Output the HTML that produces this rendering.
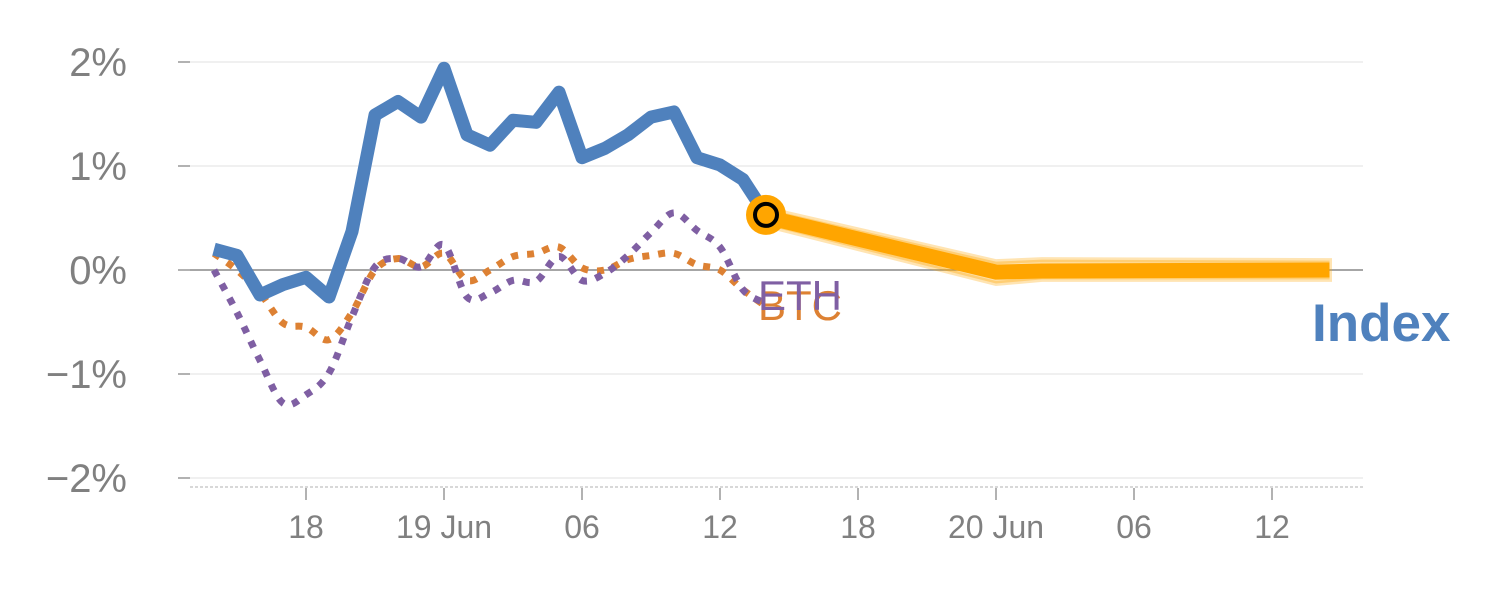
<!DOCTYPE html>
<html><head><meta charset="utf-8"><style>
html,body{margin:0;padding:0;background:#fff;}
svg{display:block;font-family:"Liberation Sans",Arial,sans-serif;}
</style></head><body>
<svg id="chart" width="1500" height="600" viewBox="0 0 1500 600"></svg>
<script>
// hours since 18 Jun 00:00
const histHours = [14,15,16,17,18,19,20,21,22,23,24,25,26,27,28,29,30,31,32,33,34,35,36,37,38];
const indexValues = [0.20,0.14,-0.24,-0.14,-0.07,-0.26,0.37,1.49,1.62,1.47,1.94,1.30,1.20,1.44,1.42,1.71,1.08,1.17,1.30,1.47,1.52,1.08,1.01,0.87,0.53];
const ethValues = [0.0,-0.41,-0.87,-1.28,-1.2,-0.99,-0.45,0.03,0.11,0.03,0.24,-0.26,-0.22,-0.1,-0.11,0.13,-0.1,-0.03,0.14,0.36,0.55,0.38,0.22,-0.19,-0.32];
const btcValues = [0.16,0.0,-0.22,-0.51,-0.55,-0.67,-0.41,0.0,0.11,0.03,0.16,-0.1,0.0,0.13,0.16,0.22,0.02,0.0,0.1,0.14,0.16,0.05,0.0,-0.19,-0.35];
const fcHours = [38,48,50,62.5];
const fcUpper = [0.59,0.08,0.10,0.09];
const fcLower = [0.43,-0.13,-0.09,-0.09];
const fcMid = [0.51,-0.02,-0.01,0.0];
const yTicks = [2,1,0,-1,-2];
const yTickLabels = ["2%","1%","0%","−1%","−2%"];
const xTickHours = [18,24,30,36,42,48,54,60];
const xTickLabels = ["18","19 Jun","06","12","18","20 Jun","06","12"];

const NS="http://www.w3.org/2000/svg";
const svg=document.getElementById('chart');
const X=h=>306+(h-18)*23;
const Y=v=>270-v*104;
function mk(tag,attrs,parent){const e=document.createElementNS(NS,tag);for(const k in attrs)e.setAttribute(k,attrs[k]);(parent||svg).appendChild(e);return e;}

yTicks.forEach((t,i)=>{
  const g=mk('line',{x1:190,x2:1363,y1:Y(t),y2:Y(t),stroke:t===0?'#888':'#e2e2e2','stroke-width':t===0?1.5:1});
  
  
  const tk=mk('line',{x1:178,x2:190,y1:Y(t),y2:Y(t),stroke:'#999','stroke-width':1.5});
  
  
  const tx=mk('text',{x:127,y:Y(t)+14,'text-anchor':'end','font-size':40,fill:'#808080'});
  tx.textContent=yTickLabels[i];
  
  
});
const ax=mk('line',{x1:190,x2:1365,y1:487,y2:487,stroke:'#ccc','stroke-width':1.5,'stroke-dasharray':'3,2'});


xTickHours.forEach((h,i)=>{
  const tk=mk('line',{x1:X(h),x2:X(h),y1:488,y2:500,stroke:'#999','stroke-width':1.5});
  
  
  const tx=mk('text',{x:X(h),y:538,'text-anchor':'middle','font-size':32,fill:'#808080'});
  tx.textContent=xTickLabels[i];
  
  
});

function smooth(pts){
  let d=`M${pts[0][0]},${pts[0][1]}`;
  for(let i=0;i<pts.length-1;i++){
    const p0=pts[i-1]||pts[i],p1=pts[i],p2=pts[i+1],p3=pts[i+2]||p2;
    const c1=[p1[0]+(p2[0]-p0[0])/6,p1[1]+(p2[1]-p0[1])/6];
    const c2=[p2[0]-(p3[0]-p1[0])/6,p2[1]-(p3[1]-p1[1])/6];
    d+=` C${c1[0]},${c1[1]} ${c2[0]},${c2[1]} ${p2[0]},${p2[1]}`;
  }
  return d;
}
const btcPts=histHours.map((h,i)=>[X(h),Y(btcValues[i])]);
const ethPts=histHours.map((h,i)=>[X(h),Y(ethValues[i])]);
const btc=mk('path',{d:smooth(btcPts),fill:'none',stroke:'#DD8133','stroke-width':7,'stroke-dasharray':'7,9'});


const eth=mk('path',{d:smooth(ethPts),fill:'none',stroke:'#7F5FA3','stroke-width':7,'stroke-dasharray':'7,9'});



const idx=mk('polyline',{points:histHours.map((h,i)=>X(h)+','+Y(indexValues[i])).join(' '),fill:'none',stroke:'#4F81BD','stroke-width':13,'stroke-linejoin':'round'});



const up=fcHours.map((h,i)=>X(h)+','+Y(fcUpper[i]));
const lo=fcHours.map((h,i)=>X(h)+','+Y(fcLower[i])).reverse();
const band=mk('polygon',{points:up.concat(lo).join(' '),fill:'#FFA500','fill-opacity':0.35,stroke:'#FFA500','stroke-opacity':0.3,'stroke-width':5});


const fc=mk('polyline',{points:fcHours.map((h,i)=>X(h)+','+Y(fcMid[i])).join(' '),fill:'none',stroke:'#FFA500','stroke-width':15});



const lastH=histHours[histHours.length-1],lastV=indexValues[indexValues.length-1];
const m1=mk('circle',{cx:X(lastH),cy:Y(lastV),r:20,fill:'#FFA500'});


const m2=mk('circle',{cx:X(lastH),cy:Y(lastV),r:11,fill:'#FFA500',stroke:'#000','stroke-width':4});



const lb=mk('text',{x:758,y:320,'font-size':42,fill:'#DD8133'});lb.textContent='BTC';


const le=mk('text',{x:758,y:310,'font-size':42,fill:'#7F5FA3'});le.textContent='ETH';


const li=mk('text',{x:1312,y:341,'font-size':53,'font-weight':'bold',fill:'#4F81BD'});li.textContent='Index';


</script>
</body></html>
